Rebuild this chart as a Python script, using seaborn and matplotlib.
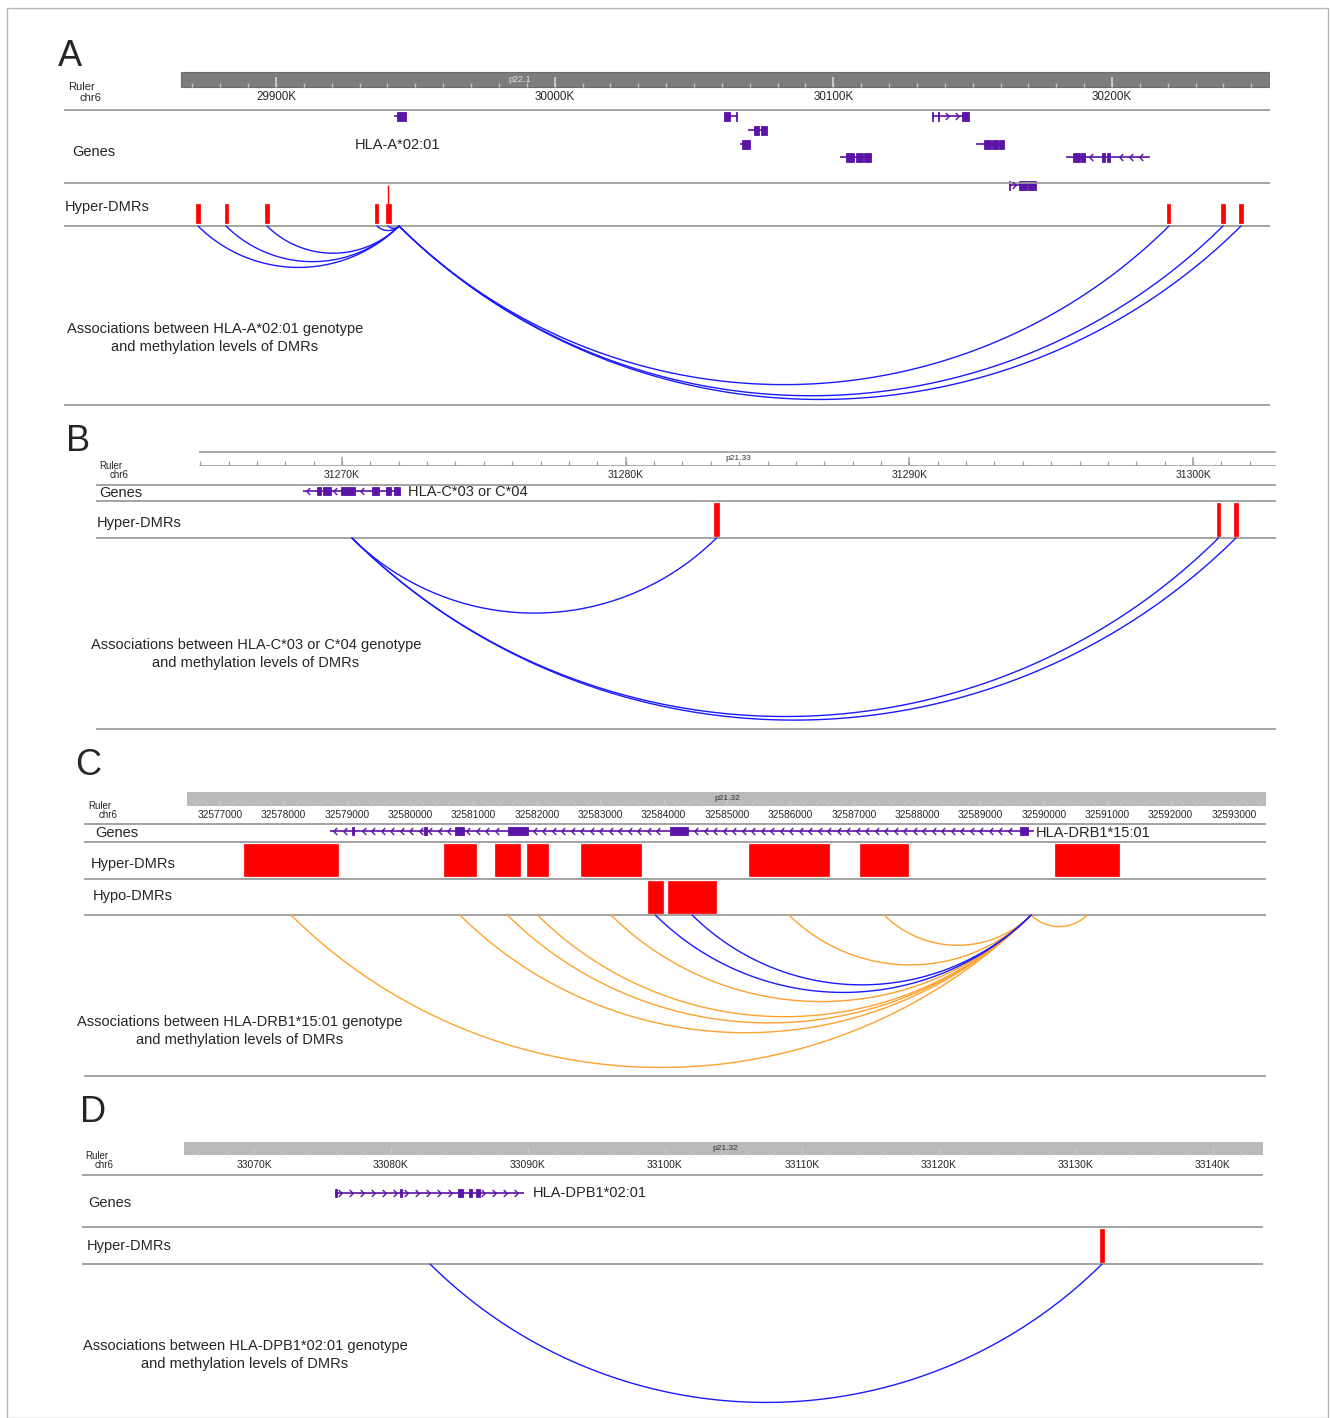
import numpy as np
import pandas as pd
import matplotlib.pyplot as plt
import seaborn as sns
from matplotlib.path import Path
from matplotlib.patches import Rectangle

# ---------------- data ----------------
# Panel A: HLA-A*02:01
a_ticks = [29900000, 30000000, 30100000, 30200000]
a_tick_labels = ['29900K', '30000K', '30100K', '30200K']
a_hyper_start = [29871470, 29881520, 29896230, 29935700, 29939300, 30219910, 30239290, 30245750]
a_hyper_end = [29872550, 29882600, 29897310, 29936780, 29941090, 30220990, 30240370, 30246830]
a_anchor = 29944140
a_gene_start = [29942300, 30060700, 30135400, 30069400, 30066500, 30151200, 30102400, 30183500, 30163000]
a_gene_end = [29946600, 30065400, 30148700, 30076200, 30070100, 30161200, 30113500, 30213600, 30172700]
a_gene_strand = ['+', '+', '+', '-', '-', '-', '-', '-', '+']
a_gene_row = [0, 0, 0, 1, 2, 2, 3, 3, 5]
a_gene_exons = [
    [(29943300, 29946600)],
    [(30060700, 30062800), (30064900, 30065400)],
    [(30135400, 30135800), (30137600, 30138000), (30146200, 30148700)],
    [(30071500, 30073200), (30073900, 30076200)],
    [(30067200, 30070100)],
    [(30154000, 30156500), (30157000, 30159000), (30159300, 30161200)],
    [(30104500, 30107500), (30108000, 30110500), (30111000, 30113500)],
    [(30186000, 30188500), (30189000, 30190300), (30196400, 30197600), (30198200, 30199300)],
    [(30163000, 30163500), (30166500, 30169500), (30170000, 30172700)],
]

# Panel B: HLA-C*03 or C*04
b_ticks = [31270000, 31280000, 31290000, 31300000]
b_tick_labels = ['31270K', '31280K', '31290K', '31300K']
b_hyper_start = [31283110, 31300840, 31301440]
b_hyper_end = [31283290, 31300950, 31301580]
b_anchor = 31270350
b_gene = (31268630, 31272040, '-')
b_gene_exons = [(31269120, 31269260), (31269330, 31269610), (31269960, 31270460),
                (31271060, 31271300), (31271550, 31271730), (31271830, 31272040)]

# Panel C: HLA-DRB1*15:01
c_ticks = [32577000, 32578000, 32579000, 32580000, 32581000, 32582000, 32583000, 32584000,
           32585000, 32586000, 32587000, 32588000, 32589000, 32590000, 32591000, 32592000, 32593000]
c_tick_labels = [str(t) for t in c_ticks]
c_hyper_start = [32577380, 32580530, 32581340, 32581840, 32582700, 32585350, 32587100, 32590180]
c_hyper_end = [32578860, 32581040, 32581730, 32582180, 32583640, 32586610, 32587860, 32591190]
c_hypo_start = [32583750, 32584070]
c_hypo_end = [32583990, 32584830]
c_anchor = 32589800
c_gene = (32578740, 32589850, '-')
c_gene_exons = [(32579080, 32579120), (32580220, 32580260), (32580710, 32580850),
                (32581540, 32581860), (32584100, 32584390), (32589620, 32589750)]

# Panel D: HLA-DPB1*02:01
d_ticks = [33070000, 33080000, 33090000, 33100000, 33110000, 33120000, 33130000, 33140000]
d_tick_labels = ['33070K', '33080K', '33090K', '33100K', '33110K', '33120K', '33130K', '33140K']
d_hyper_start = [33131760]
d_hyper_end = [33132050]
d_anchor = 33082850
d_gene = (33075910, 33089710, '+')
d_gene_exons = [(33075910, 33076060), (33080660, 33080800), (33084890, 33085260),
                (33085700, 33085910), (33086210, 33086500)]

# ---------------- style ----------------
sns.set_theme(style='white')
plt.rcParams['font.family'] = ['Liberation Sans', 'DejaVu Sans']

W, H = 1330, 1418
PURPLE = '#5a14a6'
RED = '#ff0000'
BLUE = '#1a1aff'
ORANGE = '#ffa12e'
SEP = '#9c9c9c'

LEFT = Path([(0.5, 1), (-0.5, 0), (0.5, -1)], [Path.MOVETO, Path.LINETO, Path.LINETO])
RIGHT = Path([(-0.5, 1), (0.5, 0), (-0.5, -1)], [Path.MOVETO, Path.LINETO, Path.LINETO])

fig = plt.figure(figsize=(W / 100, H / 100), dpi=100)
fig.patch.set_facecolor('white')
fig.add_artist(Rectangle((7 / W, 0.5 / H), 1321 / W, 1 - 8.5 / H, transform=fig.transFigure,
                         fill=False, ec='#b4b4b4', lw=1))


def ftext(x, y, s, **kw):
    kw.setdefault('va', 'center')
    kw.setdefault('fontsize', 10.5)
    fig.text(x / W, 1 - y / H, s, **kw)


def make_panel(x0, x1, y0, y1, ref_bp, ref_px, bpp):
    ax = fig.add_axes([x0 / W, 1 - y1 / H, (x1 - x0) / W, (y1 - y0) / H])
    ax.set_xlim(ref_bp - (ref_px - x0) * bpp, ref_bp + (x1 - ref_px) * bpp)
    ax.set_ylim(y1, y0)
    ax.axis('off')
    ax.bpp = bpp
    ax.px = lambda p: ref_bp + (p - ref_px) * bpp
    return ax


def separators(ax, ys):
    for y in ys:
        ax.axhline(y, color=SEP, lw=1.3)


def ruler_ticks(ax, start, stop, step, y0, y1, color, lw):
    first = np.ceil(start / step) * step
    ax.vlines(np.arange(first, stop, step), y0, y1, color=color, lw=lw)


def draw_gene(ax, start, end, strand, y, exons, h=8, spacing=10):
    bpp = ax.bpp
    ax.hlines(y, start, end, color=PURPLE, lw=1.2)
    for es, ee in exons:
        ax.add_patch(Rectangle((es, y - h / 2), ee - es, h, fc=PURPLE, ec=PURPLE, lw=0.6))
    pos = np.arange(start + spacing * bpp * 0.5, end - 2 * bpp, spacing * bpp)
    keep = [p for p in pos if all(not (es - 3 * bpp <= p <= ee + 3 * bpp) for es, ee in exons)]
    ax.plot(keep, [y] * len(keep), ls='none', marker=LEFT if strand == '-' else RIGHT,
            ms=5, mec=PURPLE, mfc='none', mew=1)


def dmrs(ax, starts, ends, ytop, ybot):
    ax.broken_barh([(s, e - s) for s, e in zip(starts, ends)], (ytop, ybot - ytop),
                   fc=RED, ec=RED, lw=0.5)


def arc_frame(ax, anchor, targets, kinds, y0):
    rows = []
    for i, (t, k) in enumerate(zip(targets, kinds)):
        c = abs(t - anchor) / ax.bpp
        s = 0.206 * c
        r = (c * c / 4 + s * s) / (2 * s)
        th0 = np.arcsin(min(1.0, (c / 2) / r))
        th = np.linspace(-th0, th0, 120)
        xm = (t + anchor) / 2
        xs = xm + r * np.sin(th) * ax.bpp
        ys = y0 + s - r + r * np.cos(th)
        rows.append(pd.DataFrame({'x': xs, 'y': ys, 'arc': i, 'kind': k}))
    return pd.concat(rows, ignore_index=True)


def draw_arcs(ax, df):
    sns.lineplot(data=df, x='x', y='y', units='arc', estimator=None, sort=False,
                 hue='kind', palette={'hyper': BLUE, 'hypo': BLUE, 'hyper_o': ORANGE},
                 legend=False, lw=1.0, ax=ax)
    ax.axis('off')


def mids(starts, ends):
    return [(s + e) / 2 for s, e in zip(starts, ends)]


# ---------------- Panel A ----------------
axA = make_panel(64, 1270, 40, 412, 29900000, 276, 358.85)
ylimA = axA.get_ylim()
bar0, bar1 = axA.px(181), axA.px(1270)
axA.add_patch(Rectangle((bar0, 72), bar1 - bar0, 15, fc='#7c7c7c', ec='#6a6a6a', lw=0.8))
ruler_ticks(axA, bar0, bar1, 10000, 83, 87, '#c9c9c9', 1)
axA.vlines(a_ticks, 77, 87, color='#d6d6d6', lw=1.2)
for t, lab in zip(a_ticks, a_tick_labels):
    axA.text(t, 97.5, lab, ha='center', va='center', fontsize=8.4)
axA.text(axA.px(520), 79.5, 'p22.1', ha='center', va='center', fontsize=6.5, color='#e2e2e2')
separators(axA, [110, 183, 226, 405])
row_y = [116, 130, 144, 157, 171, 185]
for s, e, st, r, ex in zip(a_gene_start, a_gene_end, a_gene_strand, a_gene_row, a_gene_exons):
    draw_gene(axA, s, e, st, row_y[r], ex, h=9)
dmrs(axA, a_hyper_start, a_hyper_end, 204, 223)
axA.vlines(mids(a_hyper_start, a_hyper_end)[4], 185, 204, color=RED, lw=1)
draw_arcs(axA, arc_frame(axA, a_anchor, mids(a_hyper_start, a_hyper_end),
                         ['hyper'] * len(a_hyper_start), 226))
axA.set_ylim(ylimA)

ftext(70, 57, 'A', fontsize=26, ha='center')
ftext(68, 87, 'Ruler', fontsize=8)
ftext(80, 98, 'chr6', fontsize=8)
ftext(72, 152, 'Genes')
ftext(355, 145, 'HLA-A*02:01')
ftext(65, 207, 'Hyper-DMRs')
ftext(215, 329, 'Associations between HLA-A*02:01 genotype', ha='center')
ftext(215, 347, 'and methylation levels of DMRs', ha='center')

# ---------------- Panel B ----------------
axB = make_panel(96, 1276, 425, 735, 31270000, 342, 35.25)
ylimB = axB.get_ylim()
r0, r1 = axB.px(199), axB.px(1276)
axB.hlines(452, r0, r1, color=SEP, lw=1.2)
axB.hlines(465, r0, r1, color='#b0b0b0', lw=0.8)
ruler_ticks(axB, r0, r1, 1000, 461, 465, '#a0a0a0', 0.9)
axB.vlines(b_ticks, 457, 465, color='#a0a0a0', lw=1.1)
for t, lab in zip(b_ticks, b_tick_labels):
    axB.text(t, 474.5, lab, ha='center', va='center', fontsize=7.5)
axB.text(axB.px(738), 458.5, 'p21.33', ha='center', va='center', fontsize=6, color='#333333')
separators(axB, [485, 501, 538, 729])
draw_gene(axB, b_gene[0], b_gene[1], b_gene[2], 491, b_gene_exons, h=8, spacing=9)
dmrs(axB, b_hyper_start, b_hyper_end, 503, 536)
draw_arcs(axB, arc_frame(axB, b_anchor, mids(b_hyper_start, b_hyper_end),
                         ['hyper'] * len(b_hyper_start), 538))
axB.set_ylim(ylimB)

ftext(78, 441, 'B', fontsize=26, ha='center')
ftext(99, 466, 'Ruler', fontsize=7)
ftext(110, 475, 'chr6', fontsize=7)
ftext(99, 493, 'Genes')
ftext(408, 492, 'HLA-C*03 or C*04')
ftext(97, 523, 'Hyper-DMRs')
ftext(256, 645, 'Associations between HLA-C*03 or C*04 genotype', ha='center')
ftext(256, 663, 'and methylation levels of DMRs', ha='center')

# ---------------- Panel C ----------------
axC = make_panel(84, 1266, 750, 1082, 32577000, 220, 15.78)
ylimC = axC.get_ylim()
bar0, bar1 = axC.px(187), axC.px(1266)
axC.add_patch(Rectangle((bar0, 792), bar1 - bar0, 14, fc='#bababa', ec='none'))
ruler_ticks(axC, bar0, bar1, 200, 802, 806, '#c6c6c6', 0.8)
axC.vlines(c_ticks, 798, 806, color='#c8c8c8', lw=1)
for t, lab in zip(c_ticks, c_tick_labels):
    axC.text(t, 814.5, lab, ha='center', va='center', fontsize=7.3)
axC.text(axC.px(727), 798.5, 'p21.32', ha='center', va='center', fontsize=6, color='#333333')
separators(axC, [824, 842, 879, 915, 1076])
draw_gene(axC, c_gene[0], c_gene[1], c_gene[2], 831, c_gene_exons, h=8, spacing=9.5)
dmrs(axC, c_hyper_start, c_hyper_end, 844, 876)
dmrs(axC, c_hypo_start, c_hypo_end, 881, 913)
c_targets = mids(c_hyper_start, c_hyper_end) + mids(c_hypo_start, c_hypo_end)
c_kinds = ['hyper_o'] * len(c_hyper_start) + ['hypo'] * len(c_hypo_start)
draw_arcs(axC, arc_frame(axC, c_anchor, c_targets, c_kinds, 915))
axC.set_ylim(ylimC)

ftext(88, 765, 'C', fontsize=26, ha='center')
ftext(88, 806, 'Ruler', fontsize=7)
ftext(99, 815, 'chr6', fontsize=7)
ftext(95, 833, 'Genes')
ftext(1036, 833, 'HLA-DRB1*15:01')
ftext(91, 864, 'Hyper-DMRs')
ftext(93, 896, 'Hypo-DMRs')
ftext(240, 1022, 'Associations between HLA-DRB1*15:01 genotype', ha='center')
ftext(240, 1040, 'and methylation levels of DMRs', ha='center')

# ---------------- Panel D ----------------
axD = make_panel(82, 1263, 1095, 1416, 33070000, 254, 73.0)
ylimD = axD.get_ylim()
bar0, bar1 = axD.px(184), axD.px(1263)
axD.add_patch(Rectangle((bar0, 1142), bar1 - bar0, 13, fc='#bababa', ec='none'))
ruler_ticks(axD, bar0, bar1, 2000, 1151, 1155, '#c6c6c6', 0.8)
axD.vlines(d_ticks, 1147, 1155, color='#c8c8c8', lw=1)
for t, lab in zip(d_ticks, d_tick_labels):
    axD.text(t, 1164.5, lab, ha='center', va='center', fontsize=7.5)
axD.text(axD.px(725), 1148.5, 'p21.32', ha='center', va='center', fontsize=6, color='#333333')
separators(axD, [1175, 1227, 1264])
draw_gene(axD, d_gene[0], d_gene[1], d_gene[2], 1193, d_gene_exons, h=8, spacing=11)
dmrs(axD, d_hyper_start, d_hyper_end, 1229, 1262)
draw_arcs(axD, arc_frame(axD, d_anchor, mids(d_hyper_start, d_hyper_end),
                         ['hyper'] * len(d_hyper_start), 1264))
axD.set_ylim(ylimD)

ftext(93, 1112, 'D', fontsize=26, ha='center')
ftext(85, 1156, 'Ruler', fontsize=7)
ftext(95, 1165, 'chr6', fontsize=7)
ftext(88, 1203, 'Genes')
ftext(533, 1193, 'HLA-DPB1*02:01')
ftext(87, 1246, 'Hyper-DMRs')
ftext(245, 1346, 'Associations between HLA-DPB1*02:01 genotype', ha='center')
ftext(245, 1364, 'and methylation levels of DMRs', ha='center')

fig.savefig('out.png', dpi=100, facecolor='white')
